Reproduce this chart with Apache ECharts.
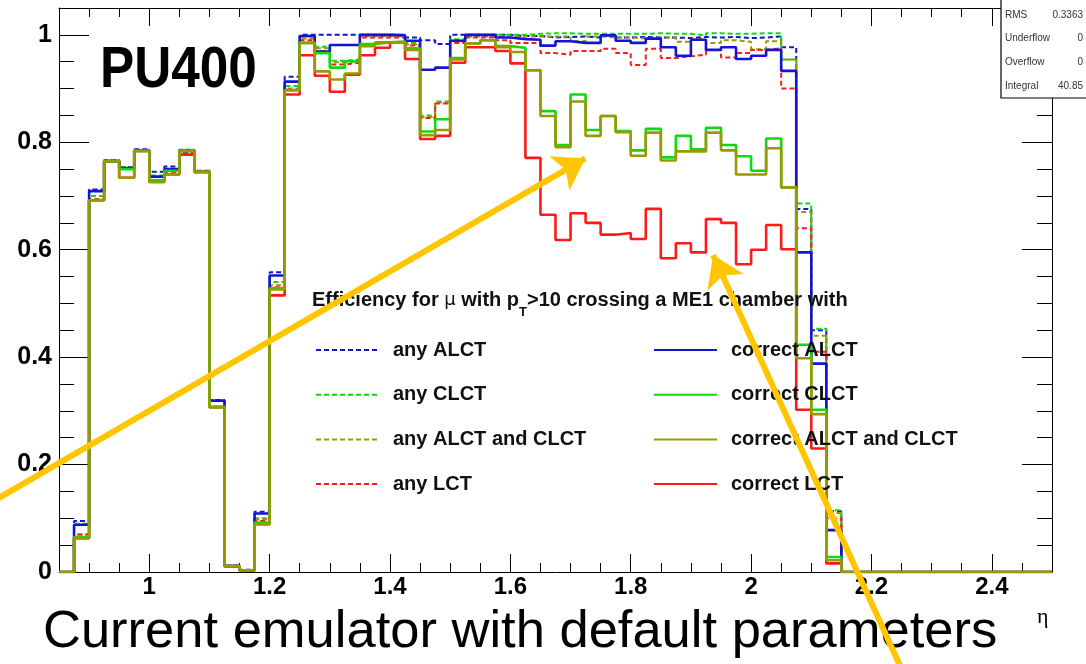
<!DOCTYPE html>
<html>
<head>
<meta charset="utf-8">
<script src="https://cdn.jsdelivr.net/npm/echarts@6/dist/echarts.min.js"></script>
<style>
  html, body { margin: 0; padding: 0; background: #fff; }
  #chart { width: 1086px; height: 664px; }
</style>
</head>
<body>
<div id="chart"></div>
<script>
// Efficiency vs eta, 66 bins of 0.025 from 0.85 to 2.5
const BIN_LOW = 0.85;
const BIN_WIDTH = 0.025;
const ETA_MAX = 2.5;

const anyALCT = [
  0, 0.095, 0.712, 0.767, 0.754, 0.787, 0.745, 0.755, 0.786, 0.747,
  0.320, 0.012, 0.004, 0.112, 0.558, 0.922, 1.000, 1.000, 1.000, 1.000,
  1.000, 1.000, 1.000, 0.995, 0.990, 0.983, 1.000, 1.000, 1.000, 1.000,
  0.998, 0.998, 0.995, 0.996, 0.997, 0.995, 0.999, 0.995, 0.996, 0.995,
  0.995, 0.994, 0.996, 0.995, 0.996, 0.994, 0.995, 0.997, 0.977, 0.676,
  0.450, 0.113, 0, 0, 0, 0, 0, 0, 0, 0,
  0, 0, 0, 0, 0, 0
];
const anyCLCT = [
  0, 0.090, 0.700, 0.766, 0.754, 0.785, 0.738, 0.750, 0.785, 0.745,
  0.308, 0.011, 0.003, 0.100, 0.540, 0.905, 0.997, 0.978, 0.952, 0.954,
  1.000, 1.000, 1.000, 0.985, 0.850, 0.876, 0.992, 1.000, 1.000, 1.000,
  1.000, 1.002, 1.003, 1.003, 1.002, 1.002, 1.002, 1.002, 1.002, 1.003,
  1.002, 1.002, 0.999, 1.003, 1.002, 1.002, 1.003, 1.003, 0.954, 0.686,
  0.453, 0.115, 0, 0, 0, 0, 0, 0, 0, 0,
  0, 0, 0, 0, 0, 0
];
const anyALCTandCLCT = [
  0, 0.070, 0.694, 0.765, 0.752, 0.785, 0.730, 0.743, 0.784, 0.745,
  0.307, 0.011, 0.003, 0.098, 0.534, 0.900, 0.993, 0.975, 0.949, 0.951,
  0.998, 0.998, 0.998, 0.982, 0.847, 0.874, 0.990, 0.997, 0.997, 0.995,
  0.997, 0.997, 0.997, 0.997, 0.988, 0.997, 0.995, 0.995, 0.993, 0.995,
  0.995, 0.987, 0.992, 0.985, 0.990, 0.987, 0.973, 0.988, 0.954, 0.670,
  0.440, 0.110, 0, 0, 0, 0, 0, 0, 0, 0,
  0, 0, 0, 0, 0, 0
];
const anyLCT = [
  0, 0.070, 0.694, 0.765, 0.752, 0.785, 0.730, 0.742, 0.780, 0.745,
  0.307, 0.011, 0.003, 0.095, 0.530, 0.898, 0.990, 0.970, 0.945, 0.948,
  0.995, 0.995, 0.995, 0.980, 0.845, 0.872, 0.985, 0.995, 0.995, 0.990,
  0.985, 0.985, 0.966, 0.963, 0.970, 0.970, 0.974, 0.966, 0.944, 0.974,
  0.957, 0.960, 0.963, 0.972, 0.958, 0.966, 0.972, 0.975, 0.900, 0.640,
  0.410, 0.100, 0, 0, 0, 0, 0, 0, 0, 0,
  0, 0, 0, 0, 0, 0
];
const correctALCT = [
  0, 0.088, 0.709, 0.765, 0.752, 0.785, 0.736, 0.750, 0.784, 0.745,
  0.319, 0.011, 0.003, 0.109, 0.552, 0.913, 0.998, 0.969, 0.981, 0.981,
  1.000, 1.000, 0.999, 0.989, 0.935, 0.939, 0.989, 1.000, 1.000, 0.995,
  0.992, 0.991, 0.980, 0.988, 0.985, 0.985, 0.999, 0.989, 0.985, 0.993,
  0.977, 0.961, 0.991, 0.972, 0.977, 0.955, 0.961, 0.972, 0.933, 0.595,
  0.388, 0.078, 0, 0, 0, 0, 0, 0, 0, 0,
  0, 0, 0, 0, 0, 0
];
const correctCLCT = [
  0, 0.065, 0.692, 0.765, 0.750, 0.784, 0.729, 0.747, 0.784, 0.745,
  0.307, 0.011, 0.003, 0.092, 0.528, 0.897, 0.985, 0.966, 0.939, 0.951,
  0.983, 0.986, 0.987, 0.975, 0.820, 0.843, 0.957, 0.984, 0.990, 0.979,
  0.976, 0.934, 0.858, 0.795, 0.889, 0.823, 0.849, 0.821, 0.785, 0.825,
  0.772, 0.812, 0.787, 0.827, 0.795, 0.774, 0.747, 0.807, 0.716, 0.423,
  0.302, 0.028, 0, 0, 0, 0, 0, 0, 0, 0,
  0, 0, 0, 0, 0, 0
];
const correctALCTandCLCT = [
  0, 0.063, 0.692, 0.765, 0.734, 0.784, 0.726, 0.740, 0.784, 0.745,
  0.307, 0.011, 0.003, 0.089, 0.526, 0.897, 0.985, 0.932, 0.917, 0.928,
  0.979, 0.986, 0.987, 0.972, 0.813, 0.823, 0.954, 0.984, 0.990, 0.977,
  0.968, 0.934, 0.849, 0.791, 0.876, 0.812, 0.849, 0.819, 0.775, 0.818,
  0.766, 0.783, 0.783, 0.818, 0.785, 0.740, 0.740, 0.789, 0.716, 0.398,
  0.294, 0.022, 0, 0, 0, 0, 0, 0, 0, 0,
  0, 0, 0, 0, 0, 0
];
const correctLCT = [
  0, 0.063, 0.692, 0.765, 0.734, 0.784, 0.726, 0.740, 0.777, 0.745,
  0.307, 0.011, 0.003, 0.089, 0.515, 0.889, 0.962, 0.924, 0.894, 0.926,
  0.962, 0.976, 0.986, 0.955, 0.806, 0.812, 0.948, 0.977, 0.977, 0.970,
  0.947, 0.771, 0.665, 0.618, 0.668, 0.650, 0.628, 0.631, 0.620, 0.676,
  0.584, 0.612, 0.595, 0.657, 0.650, 0.573, 0.600, 0.646, 0.601, 0.302,
  0.230, 0.016, 0, 0, 0, 0, 0, 0, 0, 0,
  0, 0, 0, 0, 0, 0
];

// Axis ticks and labels
const etaLabels = [1, 1.2, 1.4, 1.6, 1.8, 2, 2.2, 2.4];
const etaMinorTicks = [0.9, 0.95, 1.0, 1.05, 1.1, 1.15, 1.2, 1.25, 1.3, 1.35, 1.4, 1.45,
  1.5, 1.55, 1.6, 1.65, 1.7, 1.75, 1.8, 1.85, 1.9, 1.95, 2.0, 2.05, 2.1, 2.15, 2.2,
  2.25, 2.3, 2.35, 2.4, 2.45];
const effLabels = [0, 0.2, 0.4, 0.6, 0.8, 1];
const effMinorTicks = [0.05, 0.1, 0.15, 0.2, 0.25, 0.3, 0.35, 0.4, 0.45, 0.5, 0.55, 0.6,
  0.65, 0.7, 0.75, 0.8, 0.85, 0.9, 0.95, 1.0, 1.05];

// Stats box entries
const statsRows = [['RMS', '0.3363'], ['Underflow', '0'], ['Overflow', '0'], ['Integral', '40.85']];

// Annotation arrows, [tail, tip] in (eta, efficiency) coordinates
const arrowSegments = [
  [[0.735, 0.128], [1.7245, 0.770]],
  [[2.253, -0.188], [1.937, 0.590]]
];

const BLUE = '#1414d2', GREEN = '#12d812', OLIVE = '#9a9a00', RED = '#ff1a1a';
const YELLOW = '#ffc600';
const SANS = 'Liberation Sans';

function stepData(vals) {
  const pts = vals.map((v, i) => [+(BIN_LOW + i * BIN_WIDTH).toFixed(3), v]);
  pts.push([ETA_MAX, vals[vals.length - 1]]);
  return pts;
}

function histSeries(name, vals, color, dashed, z) {
  return {
    name: name,
    type: 'line',
    step: 'end',
    data: stepData(vals),
    symbol: 'none',
    showSymbol: false,
    silent: true,
    z: z,
    color: color,
    lineStyle: { color: color, width: dashed ? 2 : 2.6, type: dashed ? [5, 3] : 'solid' },
    emphasis: { disabled: true }
  };
}

const fmt = v => String(+(+v).toFixed(2));

function xAxisDef(position, ticks, len, line, labels) {
  return {
    type: 'value', position: position, min: BIN_LOW, max: ETA_MAX,
    splitLine: { show: false },
    axisLine: { show: line, onZero: false, lineStyle: { color: '#000', width: 1 } },
    axisTick: { show: true, inside: true, length: len, customValues: ticks,
      lineStyle: { color: '#000', width: 1 } },
    axisLabel: labels ? {
      show: true, customValues: etaLabels, formatter: fmt, margin: 3,
      fontFamily: SANS, fontWeight: 'bold', fontSize: 24, color: '#000'
    } : { show: false }
  };
}
function yAxisDef(position, ticks, len, line, labels) {
  return {
    type: 'value', position: position, min: 0, max: 1.05,
    splitLine: { show: false },
    axisLine: { show: line, onZero: false, lineStyle: { color: '#000', width: 1 } },
    axisTick: { show: true, inside: true, length: len, customValues: ticks,
      lineStyle: { color: '#000', width: 1 } },
    axisLabel: labels ? {
      show: true, customValues: effLabels, formatter: fmt, margin: 7,
      fontFamily: SANS, fontWeight: 'bold', fontSize: 25, color: '#000'
    } : { show: false }
  };
}

const legendText = {
  fontFamily: SANS, fontWeight: 'bold', fontSize: 20, color: '#111',
  lineHeight: 20, padding: [0, 0, 0, 9]
};
function legendDef(left, names) {
  return {
    data: names, orient: 'vertical', left: left, top: 340,
    itemWidth: 63, itemHeight: 20, itemGap: 24.7,
    selectedMode: false, textStyle: legendText, padding: 0,
    itemStyle: { opacity: 0 }
  };
}

const chart = echarts.init(document.getElementById('chart'));

const statsChildren = [
  { type: 'rect', z: 30, shape: { x: 1001, y: -4, width: 95, height: 102 },
    style: { fill: '#fff', stroke: '#000', lineWidth: 1.2 } }
];
statsRows.forEach((r, i) => {
  statsChildren.push(
    { type: 'text', z: 31, x: 1005, y: 15 + i * 23.7,
      style: { text: r[0], fontFamily: SANS, fontSize: 10, fill: '#333', verticalAlign: 'middle' } },
    { type: 'text', z: 31, x: 1083, y: 15 + i * 23.7,
      style: { text: r[1], fontFamily: SANS, fontSize: 10, fill: '#333', align: 'right', verticalAlign: 'middle' } }
  );
});

const option = {
  animation: false,
  backgroundColor: '#fff',
  grid: { left: 59, right: 34, top: 8, bottom: 92, outerBoundsMode: 'none' },
  xAxis: [
    xAxisDef('bottom', etaLabels, 18, true, true),
    xAxisDef('bottom', etaMinorTicks, 9, false, false),
    xAxisDef('top', etaLabels, 18, true, false),
    xAxisDef('top', etaMinorTicks, 9, false, false)
  ],
  yAxis: [
    yAxisDef('left', effLabels, 30, true, true),
    yAxisDef('left', effMinorTicks, 15, false, false),
    yAxisDef('right', effLabels, 30, true, false),
    yAxisDef('right', effMinorTicks, 15, false, false)
  ],
  legend: [
    legendDef(315, ['any ALCT', 'any CLCT', 'any ALCT and CLCT', 'any LCT']),
    legendDef(653, ['correct ALCT', 'correct CLCT', 'correct ALCT and CLCT', 'correct LCT'])
  ],
  series: [
    histSeries('any ALCT', anyALCT, BLUE, true, 2),
    histSeries('any CLCT', anyCLCT, GREEN, true, 2),
    histSeries('any ALCT and CLCT', anyALCTandCLCT, OLIVE, true, 2),
    histSeries('any LCT', anyLCT, RED, true, 2),
    histSeries('correct LCT', correctLCT, RED, false, 3),
    histSeries('correct ALCT', correctALCT, BLUE, false, 3),
    histSeries('correct CLCT', correctCLCT, GREEN, false, 3),
    histSeries('correct ALCT and CLCT', correctALCTandCLCT, OLIVE, false, 3),
    {
      type: 'lines',
      coordinateSystem: 'cartesian2d',
      silent: true,
      clip: false,
      z: 20,
      symbol: ['none', 'arrow'],
      symbolSize: [22, 30],
      lineStyle: { color: YELLOW, width: 6, opacity: 1, curveness: 0 },
      data: arrowSegments.map(s => ({ coords: s }))
    }
  ],
  graphic: [
    {
      type: 'text', x: 100, y: 71, z: 10, scaleX: 0.9,
      style: { text: 'PU400', fontFamily: SANS, fontWeight: 'bold', fontSize: 57, fill: '#000',
        verticalAlign: 'middle' }
    },
    {
      type: 'text', x: 312, y: 300, z: 10,
      style: {
        text: '{t|Efficiency for }{mu|\u03bc}{t| with p}{sub|T}{t|>10 crossing a ME1 chamber with}',
        verticalAlign: 'middle',
        rich: {
          t: { fontFamily: SANS, fontWeight: 'bold', fontSize: 20, fill: '#111' },
          mu: { fontFamily: 'DejaVu Sans', fontSize: 18, fill: '#111' },
          sub: { fontFamily: SANS, fontWeight: 'bold', fontSize: 13, fill: '#111', padding: [24, 0, 0, 0] }
        }
      }
    },
    {
      type: 'text', x: 1037, y: 617, z: 10,
      style: { text: '\u03b7', fontFamily: 'Liberation Serif', fontSize: 22, fill: '#000',
        verticalAlign: 'middle' }
    },
    {
      type: 'text', x: 43, y: 633, z: 10,
      style: { text: 'Current emulator with default parameters', fontFamily: SANS,
        fontSize: 52.5, fill: '#000', verticalAlign: 'middle' }
    },
    { type: 'group', z: 30, children: statsChildren }
  ]
};

chart.setOption(option);
</script>
</body>
</html>
